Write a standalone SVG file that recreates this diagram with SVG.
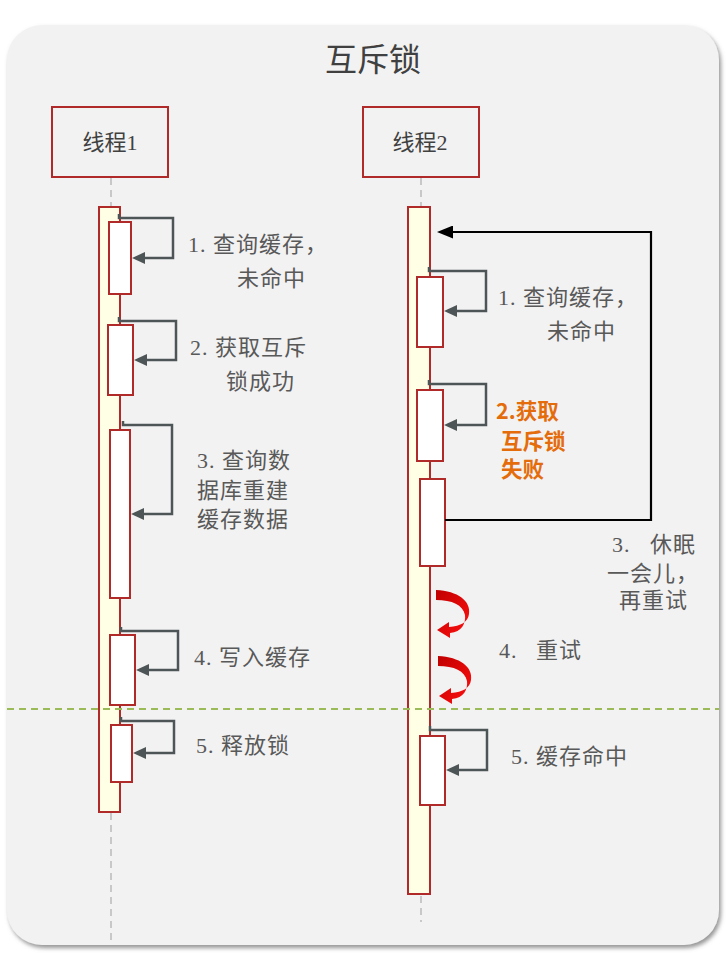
<svg xmlns="http://www.w3.org/2000/svg" width="728" height="961" viewBox="0 0 728 961">
<defs>
<style>
.t{font-family:"Liberation Serif","Noto Sans CJK SC",serif;font-size:22px;letter-spacing:1px;fill:#595959}
.o{font-family:"Noto Sans CJK SC",sans-serif;font-size:21.5px;font-weight:700;fill:#e46c0a}
.title{font-family:"Liberation Serif","Noto Sans CJK SC",serif;font-size:32px;fill:#404040;text-anchor:middle}
.al{font-family:"Liberation Serif","Noto Sans CJK SC",serif;font-size:22px;fill:#404040;text-anchor:middle}
.actor{fill:#f2f2f2;stroke:#b02a2a;stroke-width:2}
.bar{fill:#ffffe6;stroke:#b02a2a;stroke-width:2}
.act{fill:#ffffff;stroke:#b02a2a;stroke-width:2}
.life{stroke:#c8c8c8;stroke-width:2;stroke-dasharray:7 5;fill:none}
.msg{fill:none;stroke:#4e5557;stroke-width:2.5;marker-end:url(#ah)}
.loop{fill:none;stroke:#000;stroke-width:2.2;marker-end:url(#ahb)}
.curl{fill:url(#rg)}
</style>
<marker id="ah" markerUnits="userSpaceOnUse" markerWidth="13" markerHeight="12" refX="2" refY="6" orient="auto">
<path d="M0,0 L13,6 L0,12 Z" fill="#4e5557"/>
</marker>
<marker id="ahb" markerUnits="userSpaceOnUse" markerWidth="16" markerHeight="13" refX="2" refY="6.5" orient="auto">
<path d="M0,0 L16,6.5 L0,13 Z" fill="#000"/>
</marker>
<linearGradient id="rg" x1="0" y1="0" x2="1" y2="1">
<stop offset="0" stop-color="#c00000"/>
<stop offset="1" stop-color="#ff1010"/>
</linearGradient>
<filter id="sh" x="-5%" y="-5%" width="110%" height="110%">
<feDropShadow dx="2" dy="3" stdDeviation="2" flood-color="#7a7a7a" flood-opacity="0.8"/>
</filter>
</defs>

<rect id="panel" x="7" y="25" width="712" height="920" rx="35" ry="35" fill="#f2f2f2" filter="url(#sh)"/>
<text id="title" class="title" x="373" y="71">互斥锁</text>

<g id="lifelines">
<line class="life" x1="111" y1="178" x2="111" y2="206"/>
<line class="life" x1="111" y1="813" x2="111" y2="945"/>
<line class="life" x1="421" y1="178" x2="421" y2="206"/>
<line class="life" x1="421" y1="896" x2="421" y2="922"/>
</g>

<g id="actor1">
<rect class="actor" x="52" y="107" width="116" height="70"/>
<text class="al" x="110" y="150">线程1</text>
</g>
<g id="actor2">
<rect class="actor" x="363" y="107" width="116" height="70"/>
<text class="al" x="420" y="150">线程2</text>
</g>

<g id="bar1"><rect class="bar" x="99" y="207" width="21" height="605"/></g>
<g id="bar2"><rect class="bar" x="408" y="207" width="22" height="687"/></g>

<g id="t1-act1"><rect class="act" x="109" y="222" width="22" height="72"/></g>
<g id="t1-act2"><rect class="act" x="108" y="325" width="25" height="70"/></g>
<g id="t1-act3"><rect class="act" x="110" y="430" width="20" height="168"/></g>
<g id="t1-act4"><rect class="act" x="110" y="635" width="25" height="70"/></g>
<g id="t1-act5"><rect class="act" x="111" y="725" width="21" height="57"/></g>

<g id="t2-act1"><rect class="act" x="417" y="277" width="26" height="70"/></g>
<g id="t2-act2"><rect class="act" x="417" y="390" width="26" height="71"/></g>
<g id="t2-act3"><rect class="act" x="420" y="479" width="25" height="87"/></g>
<g id="t2-act5"><rect class="act" x="420" y="736" width="25" height="69"/></g>

<line id="divider" x1="7" y1="709" x2="719" y2="709" stroke="#9bbb59" stroke-width="2" stroke-dasharray="7 5"/>

<g id="connectors">
<path class="msg" d="M119,214 V218 H173 V258 H143"/>
<path class="msg" d="M119,317 V321 H176 V360 H145"/>
<path class="msg" d="M123,421 V425 H172 V514 H142"/>
<path class="msg" d="M121,627 V631 H178 V670 H147"/>
<path class="msg" d="M121,717 V721 H174 V753 H144"/>
<path class="msg" d="M429,267 V271 H486 V311 H455"/>
<path class="msg" d="M429,380 V384 H486 V425 H455"/>
<path class="msg" d="M430,726 V730 H487 V770 H457"/>
<path class="loop" d="M445,520 H651 V232 H451"/>
<path class="curl" d="M436,590 C458,591 471,601 469,614 C468,622 461,626 449,627 L449,622 L437,630 L450,638 L450,633 C462,632 466,623 465,615 C463,605 452,600 436,600 Z"/>
<path class="curl" transform="translate(2,66)" d="M436,590 C458,591 471,601 469,614 C468,622 461,626 449,627 L449,622 L437,630 L450,638 L450,633 C462,632 466,623 465,615 C463,605 452,600 436,600 Z"/>
</g>

<g id="labels1">
<text class="t" x="188" y="252">1. 查询缓存，</text>
<text class="t" x="237" y="286">未命中</text>
<text class="t" x="190" y="355">2. 获取互斥</text>
<text class="t" x="226" y="389">锁成功</text>
<text class="t" x="197" y="468">3. 查询数</text>
<text class="t" x="197" y="498">据库重建</text>
<text class="t" x="197" y="527">缓存数据</text>
<text class="t" x="194" y="665">4. 写入缓存</text>
<text class="t" x="196" y="753">5. 释放锁</text>
</g>

<g id="labels2">
<text class="t" x="498" y="305">1. 查询缓存，</text>
<text class="t" x="547" y="339">未命中</text>
<text class="o" x="496" y="419">2.获取</text>
<text class="o" x="501" y="449">互斥锁</text>
<text class="o" x="501" y="477">失败</text>
<text class="t" y="552"><tspan x="612">3.</tspan><tspan x="650">休眠</tspan></text>
<text class="t" x="607" y="581">一会儿，</text>
<text class="t" x="619" y="608">再重试</text>
<text class="t" y="658"><tspan x="499">4.</tspan><tspan x="536">重试</tspan></text>
<text class="t" x="511" y="764">5. 缓存命中</text>
</g>
</svg>
